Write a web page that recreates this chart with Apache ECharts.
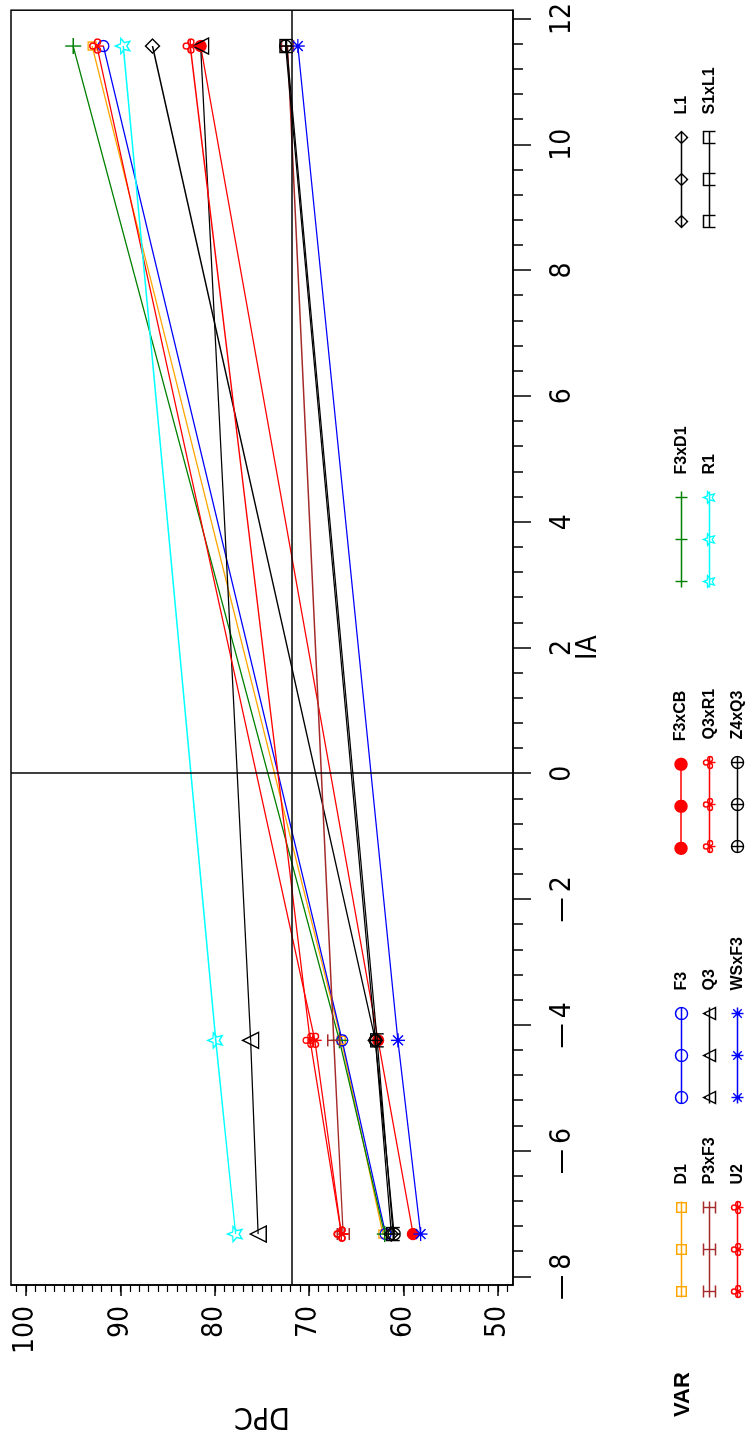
<!DOCTYPE html>
<html><head><meta charset="utf-8">
<script src="https://cdn.jsdelivr.net/npm/echarts@6/dist/echarts.min.js"></script>
<style>
html,body{margin:0;padding:0;background:#fff;overflow:hidden;width:752px;height:1439px;}
#wrap{position:absolute;left:0;top:0;width:1439px;height:752px;transform-origin:0 0;transform:translate(0,1439px) rotate(-90deg);background:#fff;}
</style></head><body><div id="wrap"></div>
<script>
// ---- data ----
const iaValues = [-7.32, -4.24, 11.57];           // IA (environment index)
const dpcD1    = [62.2, 66.6, 93.0];
const dpcF3    = [61.9, 66.5, 91.8];
const dpcF3xCB = [59.0, 62.7, 81.5];
const dpcF3xD1 = [62.0, 66.8, 95.0];
const dpcL1    = [61.3, 63.0, 86.6];
const dpcP3xF3 = [66.4, 67.4, 72.3];
const dpcQ3    = [75.4, 76.2, 81.5];
const dpcQ3xR1 = [66.6, 69.4, 92.5];
const dpcR1    = [77.8, 79.9, 89.7];
const dpcS1xL1 = [61.1, 62.8, 72.4];
const dpcU2    = [66.6, 69.9, 82.6];
const dpcWSxF3 = [58.2, 60.6, 71.2];
const dpcZ4xQ3 = [61.0, 63.0, 72.5];
const dpcMean = 71.8;
const iaZero = 0;
const iaTickLabels = [-8, -6, -4, -2, 0, 2, 4, 6, 8, 10, 12];
const dpcTickLabels = [50, 60, 70, 80, 90, 100];
const legendColumns = [['D1','P3xF3','U2'],['F3','Q3','WSxF3'],['F3xCB','Q3xR1','Z4xQ3'],['F3xD1','R1'],['L1','S1xL1']];

// ---- styling ----
const seriesDefs = [
  {name:'D1',    data:dpcD1,    color:'#FFA500', shape:'square',   fill:false, size:10},
  {name:'F3',    data:dpcF3,    color:'#0000FF', shape:'circle',   fill:false, size:11},
  {name:'F3xCB', data:dpcF3xCB, color:'#FF0000', shape:'circle',   fill:true,  size:11},
  {name:'F3xD1', data:dpcF3xD1, color:'#008000', shape:'plus',     fill:false, size:16},
  {name:'L1',    data:dpcL1,    color:'#000000', shape:'diamond',  fill:false, size:14},
  {name:'P3xF3', data:dpcP3xF3, color:'#A52A2A', shape:'hbar',     fill:false, size:12},
  {name:'Q3',    data:dpcQ3,    color:'#000000', shape:'triangle', fill:false, size:16},
  {name:'Q3xR1', data:dpcQ3xR1, color:'#FF0000', shape:'club',     fill:false, size:14},
  {name:'R1',    data:dpcR1,    color:'#00FFFF', shape:'star',     fill:false, size:16},
  {name:'S1xL1', data:dpcS1xL1, color:'#000000', shape:'note',     fill:false, size:13},
  {name:'U2',    data:dpcU2,    color:'#FF0000', shape:'club2',    fill:false, size:14},
  {name:'WSxF3', data:dpcWSxF3, color:'#0000FF', shape:'asterisk', fill:false, size:14},
  {name:'Z4xQ3', data:dpcZ4xQ3, color:'#000000', shape:'oplus',    fill:false, size:12}
];

function f(n){return (Math.round(n*1000)/1000).toString();}
function circ(cx,cy,r){return 'M'+f(cx-r)+' '+f(cy)+'A'+f(r)+' '+f(r)+' 0 1 0 '+f(cx+r)+' '+f(cy)+'A'+f(r)+' '+f(r)+' 0 1 0 '+f(cx-r)+' '+f(cy)+'Z';}
function shapePath(t,cx,cy,r){
  switch(t){
    case 'square': return 'M'+f(cx-r*0.8)+' '+f(cy-r*0.8)+'L'+f(cx+r*0.8)+' '+f(cy-r*0.8)+'L'+f(cx+r*0.8)+' '+f(cy+r*0.8)+'L'+f(cx-r*0.8)+' '+f(cy+r*0.8)+'Z'+'M'+f(cx-r)+' '+f(cy-r)+'M'+f(cx+r)+' '+f(cy+r);
    case 'circle': return circ(cx,cy,r);
    case 'plus': return 'M'+f(cx-r)+' '+f(cy)+'L'+f(cx+r)+' '+f(cy)+'M'+f(cx)+' '+f(cy-r)+'L'+f(cx)+' '+f(cy+r);
    case 'diamond': return 'M'+f(cx)+' '+f(cy-r)+'L'+f(cx+r)+' '+f(cy)+'L'+f(cx)+' '+f(cy+r)+'L'+f(cx-r)+' '+f(cy)+'Z';
    case 'triangle': return 'M'+f(cx)+' '+f(cy-r)+'L'+f(cx+r)+' '+f(cy+r)+'L'+f(cx-r)+' '+f(cy+r)+'Z';
    case 'hbar': return 'M'+f(cx-r)+' '+f(cy-r)+'L'+f(cx+r)+' '+f(cy-r)+'M'+f(cx-r)+' '+f(cy+r)+'L'+f(cx+r)+' '+f(cy+r)+'M'+f(cx)+' '+f(cy-r)+'L'+f(cx)+' '+f(cy+r);
    case 'star': {
      let p='';
      for(let i=0;i<10;i++){const a=-Math.PI/2+i*Math.PI/5;const rr=(i%2===0)?r:r*0.45;p+=(i===0?'M':'L')+f(cx+rr*Math.cos(a))+' '+f(cy+rr*Math.sin(a));}
      return p+'Z'+'M'+f(cx)+' '+f(cy+r);
    }
    case 'asterisk': {
      let p='';
      for(let i=0;i<4;i++){const a=i*Math.PI/4;p+='M'+f(cx-r*Math.cos(a))+' '+f(cy-r*Math.sin(a))+'L'+f(cx+r*Math.cos(a))+' '+f(cy+r*Math.sin(a));}
      return p;
    }
    case 'oplus': return circ(cx,cy,r)+'M'+f(cx-r)+' '+f(cy)+'L'+f(cx+r)+' '+f(cy)+'M'+f(cx)+' '+f(cy-r)+'L'+f(cx)+' '+f(cy+r);
    case 'club': {
      const s=r*0.42;
      return circ(cx,cy-r+s,s)+circ(cx-r+s,cy+0.1*r,s)+circ(cx+r-s,cy+0.1*r,s)+'M'+f(cx)+' '+f(cy)+'L'+f(cx)+' '+f(cy+r);
    }
    case 'club2': {
      const s=r*0.42;
      return circ(cx,cy-r+s,s)+circ(cx-r+s,cy+0.1*r,s)+circ(cx+r-s,cy+0.1*r,s)+'M'+f(cx-r)+' '+f(cy)+'L'+f(cx+r)+' '+f(cy)+'M'+f(cx)+' '+f(cy)+'L'+f(cx)+' '+f(cy+r);
    }
    case 'note': return 'M'+f(cx-r)+' '+f(cy+r)+'L'+f(cx-r)+' '+f(cy-r)+'L'+f(cx+r)+' '+f(cy-r)+'L'+f(cx+r)+' '+f(cy+r)+'M'+f(cx-r)+' '+f(cy)+'L'+f(cx+r)+' '+f(cy);
  }
  return '';
}
function legendIcon(t){
  const r=6; let p='M0 6L96 6';
  [6,48,90].forEach(cx=>{p+=shapePath(t,cx,6,r);});
  return 'path://'+p;
}

const FONT = '"Liberation Sans Narrow","DejaVu Sans Condensed","Liberation Sans",sans-serif';
const tickFont = {fontFamily:FONT, fontSize:28, color:'#000'};
const iaMinor = []; for(let v=-8; v<=12.001; v+=0.4){ iaMinor.push(Math.round(v*10)/10); }
const dpcMinor = []; for(let v=49; v<=101; v+=1){ dpcMinor.push(v); }
function minusFmt(v){ return v<0 ? '\u2014\u2009'+Math.abs(v) : String(v); }

const series = seriesDefs.map((d,idx)=>({
  name:d.name, type:'line', xAxisIndex:0, yAxisIndex:0,
  data: iaValues.map((x,i)=>[x,d.data[i]]),
  symbol:'path://'+shapePath(d.shape,0,0,10), symbolSize:d.size, symbolKeepAspect:true,
  showAllSymbol:true,
  lineStyle:{color:d.color,width:1.3},
  itemStyle:{color:d.fill?d.color:'rgba(0,0,0,0)', borderColor:d.color, borderWidth:1.4},
  emphasis:{disabled:true},
  z: 3,
  markLine: idx===0 ? {silent:true, symbol:['none','none'], label:{show:false},
    lineStyle:{color:'#000', width:1.5, type:'solid'},
    data:[{yAxis:dpcMean},{xAxis:iaZero}]} : undefined
}));

const defByName = {}; seriesDefs.forEach(d=>defByName[d.name]=d);
const colStart = [139, 333, 584, 849, 1209];
const rowTop = [673, 701, 729];
const legends = [];
legendColumns.forEach((names,ci)=>{
  names.forEach((n,ri)=>{
    const d=defByName[n];
    legends.push({
      orient:'horizontal', left:colStart[ci], top:rowTop[ri], padding:0,
      itemWidth:96, itemHeight:12, selectedMode:false,
      textStyle:{fontFamily:'"Liberation Sans",Arial,sans-serif', fontWeight:'bold', fontSize:16, color:'#000', lineHeight:12, padding:[0,0,0,12]},
      data:[{name:n, icon:legendIcon(d.shape), itemStyle:{color:d.fill?d.color:'none', borderColor:d.color, borderWidth:1.4}}]
    });
  });
});

const chart = echarts.init(document.getElementById('wrap'), null, {width:1439, height:752, renderer:'canvas'});
chart.setOption({
  animation:false,
  backgroundColor:'#fff',
  title:{text:'VAR', left:22, top:672, padding:0, textStyle:{fontFamily:'"Liberation Sans",Arial,sans-serif', fontWeight:'bold', fontSize:22, color:'#000'}},
  legend: legends,
  grid:{left:150, right:7, top:11, bottom:239, show:true, borderColor:'#000', borderWidth:1.5, backgroundColor:'transparent'},
  xAxis:[
    {type:'value', position:'bottom', min:-8.13, max:12.14, name:'IA', nameLocation:'middle', nameGap:62, nameMoveOverlap:false,
     nameTextStyle:{fontFamily:FONT, fontSize:28, color:'#000'},
     axisLine:{show:true, onZero:false, lineStyle:{color:'#000', width:1.5}},
     axisTick:{show:true, length:18, customValues:iaTickLabels, lineStyle:{color:'#000', width:1.5}},
     axisLabel:{show:true, margin:36, customValues:iaTickLabels, formatter:minusFmt, ...tickFont},
     splitLine:{show:false}},
    {type:'value', position:'bottom', min:-8.13, max:12.14,
     axisLine:{show:false, onZero:false}, axisTick:{show:true, length:10, customValues:iaMinor, lineStyle:{color:'#000', width:1.5}},
     axisLabel:{show:false}, splitLine:{show:false}}
  ],
  yAxis:[
    {type:'value', position:'left', min:48.41, max:101.59, name:'DPC', nameLocation:'middle', nameGap:116, nameRotate:90, nameMoveOverlap:false,
     nameTextStyle:{fontFamily:FONT, fontSize:30, color:'#000'},
     axisLine:{show:true, onZero:false, lineStyle:{color:'#000', width:1.5}},
     axisTick:{show:true, length:11, customValues:dpcTickLabels, lineStyle:{color:'#000', width:1.5}},
     axisLabel:{show:true, margin:21, customValues:dpcTickLabels, ...tickFont},
     splitLine:{show:false}},
    {type:'value', position:'left', min:48.41, max:101.59,
     axisLine:{show:false, onZero:false}, axisTick:{show:true, length:7, customValues:dpcMinor, lineStyle:{color:'#000', width:1.2}},
     axisLabel:{show:false}, splitLine:{show:false}}
  ],
  series: series
});
</script></body></html>
